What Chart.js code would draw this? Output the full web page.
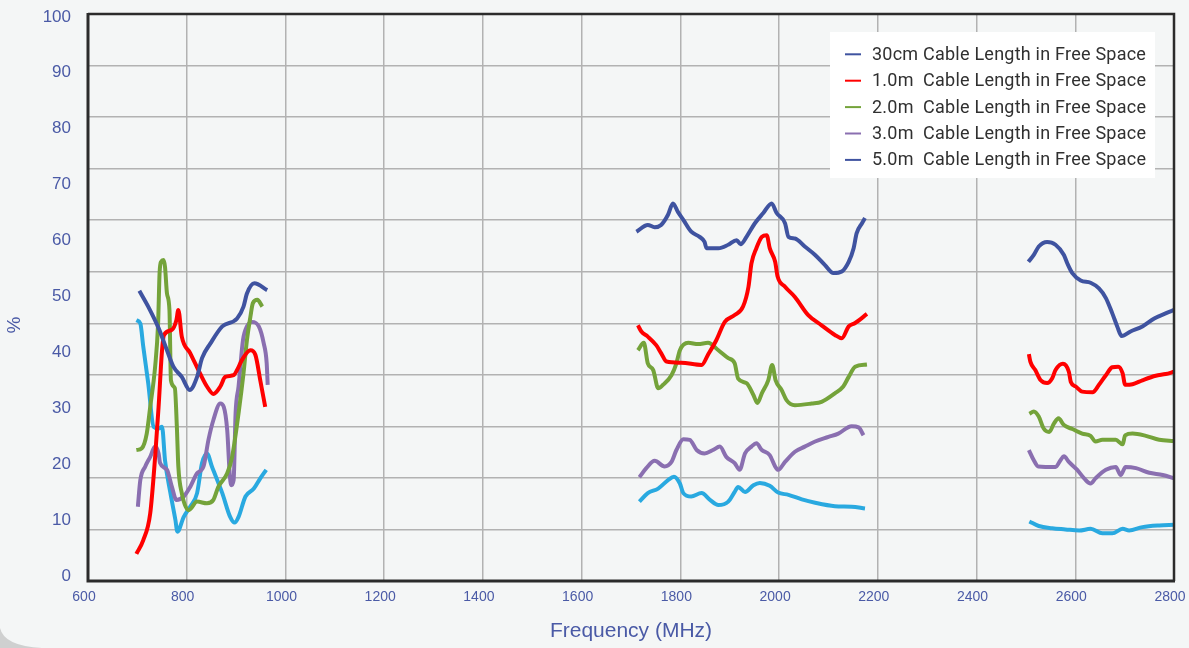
<!DOCTYPE html>
<html>
<head>
<meta charset="utf-8">
<title>Efficiency vs Frequency</title>
<script src="https://cdn.jsdelivr.net/npm/chart.js@4.4.1/dist/chart.umd.min.js"></script>
<style>
  html, body { margin: 0; padding: 0; background: #f4f6f6; }
  #wrap { width: 1189px; height: 648px; position: relative; }
</style>
</head>
<body>
<div id="wrap"><canvas id="chart"></canvas></div>
<script>
// [frequency MHz, %] ; null = break between bands
const GAP = null;

const seriesLabels = [
  "30cm Cable Length in Free Space",
  "1.0m  Cable Length in Free Space",
  "2.0m  Cable Length in Free Space",
  "3.0m  Cable Length in Free Space",
  "5.0m  Cable Length in Free Space"
];

const cable30cm = [
  [704,51.2],[722,48.4],[743,44.6],[760,40.7],[773,37.8],[790,36.0],[806,33.7],[821,36.0],[831,39.3],
  [848,41.9],[872,44.9],[902,46.3],[915,48.4],[922,50.7],[937,52.5],[963,51.3],
  GAP,
  [1711,61.6],[1734,62.8],[1748,62.4],[1761,62.8],[1775,64.6],[1785,66.6],[1795,65.1],[1806,63.7],
  [1822,61.6],[1839,60.7],[1849,59.8],[1853,58.7],[1877,58.7],[1897,59.3],[1914,60.1],[1922,59.4],
  [1934,60.7],[1951,63.1],[1968,64.9],[1985,66.6],[1995,64.9],[2012,63.1],[2019,60.7],[2032,60.4],
  [2052,59.0],[2073,57.5],[2093,55.7],[2110,54.3],[2127,54.6],[2141,56.3],[2151,58.7],[2157,61.3],
  [2168,63.1],[2174,64.0],
  GAP,
  [2505,56.3],[2516,57.5],[2526,59.0],[2543,59.8],[2560,59.3],[2577,57.5],[2584,56.0],[2594,54.3],
  [2611,53.0],[2631,52.6],[2648,51.6],[2662,49.9],[2675,47.2],[2685,44.9],[2694,43.2],[2712,44.0],
  [2736,44.9],[2760,46.3],[2783,47.2],[2800,47.8]
];

const cable1m = [
  [698,4.8],[712,7.2],[726,11.9],[736,21.9],[743,30.7],[750,40.7],[754,43.4],[770,44.3],[779,46.0],
  [783,47.8],[790,43.1],[807,40.2],[827,36.6],[841,34.3],[854,33.0],[868,34.3],[878,36.0],[895,36.3],
  [902,37.2],[912,39.0],[929,40.7],[939,39.9],[949,35.4],[959,30.7],
  GAP,
  [1714,45.1],[1721,44.0],[1734,43.1],[1751,41.6],[1761,40.2],[1772,38.7],[1802,38.5],[1843,38.1],
  [1856,39.9],[1873,42.5],[1890,45.7],[1910,46.9],[1927,48.4],[1938,51.9],[1944,56.0],[1954,58.7],
  [1965,60.7],[1975,61.0],[1981,58.7],[1992,56.3],[1997,53.7],[2012,51.9],[2032,50.1],[2059,46.9],
  [2086,45.1],[2113,43.4],[2127,42.8],[2141,44.9],[2154,45.5],[2178,47.1],
  GAP,
  [2506,40.0],[2509,38.7],[2519,37.2],[2530,35.4],[2543,34.9],[2553,35.7],[2560,37.2],[2575,38.3],
  [2587,36.9],[2591,35.1],[2601,34.3],[2614,33.4],[2635,33.3],[2648,34.6],[2662,36.3],[2675,37.7],
  [2687,37.8],[2696,36.6],[2701,34.6],[2716,34.7],[2736,35.4],[2763,36.2],[2783,36.5],[2800,36.9]
];

const cable2m = [
  [698,23.1],[709,23.4],[719,26.0],[726,30.7],[736,37.8],[742,45.4],[745,54.3],[748,56.3],[753,56.6],
  [756,55.4],[760,50.7],[765,47.8],[768,35.4],[776,34.0],[780,27.2],[783,20.2],[790,15.5],[804,12.5],
  [821,14.0],[841,13.7],[854,14.3],[864,16.6],[882,19.0],[892,21.9],[905,29.6],[915,36.6],[922,42.5],
  [929,46.6],[934,49.0],[943,49.6],[953,48.4],
  GAP,
  [1714,40.7],[1726,42.0],[1734,38.4],[1745,37.2],[1755,34.0],[1765,34.6],[1782,36.3],[1792,38.4],
  [1799,40.7],[1816,42.0],[1836,41.8],[1856,42.0],[1877,40.7],[1897,39.3],[1910,38.4],[1917,35.7],
  [1934,34.9],[1948,32.8],[1956,31.4],[1965,33.1],[1978,35.4],[1986,38.1],[1993,35.4],[2005,33.7],
  [2015,31.9],[2032,31.0],[2066,31.3],[2086,31.6],[2113,33.1],[2130,34.3],[2141,36.0],[2154,37.8],
  [2178,38.2],
  GAP,
  [2507,29.5],[2516,29.9],[2526,29.0],[2536,26.9],[2547,26.3],[2557,27.8],[2566,28.7],[2577,27.5],
  [2594,26.8],[2614,26.0],[2631,25.6],[2641,24.6],[2655,24.9],[2682,24.9],[2696,24.1],[2701,25.7],
  [2716,26.0],[2743,25.6],[2770,24.9],[2800,24.7]
];

const cable3m = [
  [701,13.1],[706,17.8],[716,20.2],[726,21.9],[736,23.7],[743,22.5],[746,20.8],[760,19.6],[770,16.6],
  [779,14.3],[794,14.9],[807,16.6],[821,19.0],[834,20.2],[844,24.9],[854,28.4],[868,31.3],[875,30.7],
  [882,26.6],[887,19.0],[890,16.9],[895,17.8],[899,29.6],[905,34.3],[914,42.5],[922,44.9],[932,45.7],
  [946,44.9],[956,41.9],[962,38.4],[964,34.6],
  GAP,
  [1717,18.3],[1731,19.9],[1748,21.2],[1768,20.2],[1782,21.0],[1792,23.1],[1806,25.0],[1819,24.9],
  [1833,23.1],[1849,22.5],[1866,23.1],[1880,23.7],[1893,21.9],[1910,20.8],[1920,19.6],[1931,22.5],
  [1944,23.7],[1954,24.3],[1965,23.1],[1981,22.2],[1992,20.2],[1998,19.6],[2012,21.0],[2032,22.8],
  [2052,23.7],[2073,24.6],[2100,25.4],[2120,26.0],[2147,27.3],[2161,27.1],[2171,25.7],
  GAP,
  [2506,23.1],[2516,21.3],[2525,20.2],[2560,20.1],[2570,21.3],[2577,22.0],[2587,21.0],[2604,19.6],
  [2618,18.1],[2631,17.2],[2641,18.1],[2662,19.6],[2682,20.1],[2692,18.7],[2702,20.1],[2723,19.9],
  [2750,19.1],[2777,18.7],[2800,18.1]
];

const cable5m = [
  [698,46.0],[706,45.4],[712,41.3],[722,34.9],[733,27.2],[743,26.9],[750,27.2],[756,21.3],[767,15.5],
  [777,10.8],[781,8.7],[794,11.3],[807,13.1],[821,15.5],[831,20.8],[841,22.5],[851,20.2],[872,15.5],
  [888,11.3],[897,10.3],[905,11.3],[919,14.9],[936,16.3],[949,18.1],[961,19.6],
  GAP,
  [1717,14.0],[1734,15.5],[1755,16.3],[1775,17.8],[1787,18.4],[1799,17.2],[1806,15.5],[1822,14.9],
  [1843,15.5],[1860,14.3],[1877,13.4],[1897,14.0],[1910,15.7],[1917,16.6],[1931,15.7],[1948,16.9],
  [1961,17.3],[1981,16.8],[1998,15.6],[2019,15.2],[2046,14.4],[2073,13.8],[2113,13.2],[2147,13.1],
  [2174,12.8],
  GAP,
  [2507,10.5],[2526,9.7],[2553,9.3],[2580,9.1],[2608,8.9],[2631,9.2],[2655,8.4],[2675,8.4],
  [2696,9.2],[2709,8.9],[2736,9.5],[2770,9.8],[2800,9.9]
];

const xTicks = [600, 800, 1000, 1200, 1400, 1600, 1800, 2000, 2200, 2400, 2600, 2800];
const yTicks = [0, 10, 20, 30, 40, 50, 60, 70, 80, 90, 100];

function toPoints(arr) {
  return arr.map((p, i) => p ? { x: p[0], y: p[1] } : { x: arr[i - 1][0] + 1, y: null });
}

const BLUE_TXT = "#4a5aa6";

function line(label, data, color, legendColor) {
  return {
    label: label,
    data: toPoints(data),
    borderColor: color,
    legendColor: legendColor || color,
    borderWidth: 4,
    pointRadius: 0,
    pointHoverRadius: 0,
    tension: 0.4,
    cubicInterpolationMode: "monotone",
    spanGaps: false,
    fill: false
  };
}

function noPad(s) {
  s.paddingTop = 0; s.paddingBottom = 0; s.paddingLeft = 0; s.paddingRight = 0;
}

const decor = {
  id: "decor",
  beforeDraw(chart) {
    const c = chart.ctx;
    c.save();
    c.fillStyle = "#f4f6f6";
    c.fillRect(0, 0, chart.width, chart.height);
    // page corner shadow bottom-left
    c.fillStyle = "#cfd0d0";
    c.beginPath();
    c.moveTo(0, 628);
    c.quadraticCurveTo(4, 646, 42, 648);
    c.lineTo(0, 648);
    c.closePath();
    c.fill();
    c.restore();
  },
  afterDatasetsDraw(chart) {
    const c = chart.ctx;
    const a = chart.chartArea;
    c.save();
    // frame
    c.strokeStyle = "#2b2b2b";
    c.lineWidth = 2.5;
    c.beginPath();
    c.moveTo(a.left, a.top);
    c.lineTo(a.right, a.top);
    c.lineTo(a.right, a.bottom);
    c.stroke();
    c.lineWidth = 3;
    c.beginPath();
    c.moveTo(a.left, a.top - 1);
    c.lineTo(a.left, a.bottom);
    c.lineTo(a.right + 1, a.bottom);
    c.stroke();

    // "%" axis title
    c.fillStyle = BLUE_TXT;
    c.font = "19px 'Liberation Sans', Arial, sans-serif";
    c.textAlign = "center";
    c.textBaseline = "middle";
    c.translate(15, 325);
    c.rotate(-Math.PI / 2);
    c.fillText("%", 0, 0);
    c.restore();

    // legend box
    c.save();
    c.fillStyle = "#ffffff";
    c.fillRect(830, 32, 325, 146);
    c.font = "18px Roboto, 'DejaVu Sans', sans-serif";
    const w0 = c.measureText(seriesLabels[0]).width;
    const spacing = (274 - w0) / (seriesLabels[0].length - 1);
    c.letterSpacing = spacing.toFixed(2) + "px";
    c.textBaseline = "middle";
    c.textAlign = "left";
    chart.data.datasets.forEach((ds, i) => {
      const y = 54.3 + i * 26.4;
      c.strokeStyle = ds.legendColor;
      c.lineWidth = 2;
      c.beginPath();
      c.moveTo(845, y);
      c.lineTo(861, y);
      c.stroke();
      c.fillStyle = "#303030";
      c.fillText(ds.label, 872, y + 1);
    });
    c.restore();
  }
};

new Chart(document.getElementById("chart"), {
  type: "line",
  data: {
    datasets: [
      line(seriesLabels[0], cable30cm, "#3f53a0"),
      line(seriesLabels[1], cable1m, "#ff0000"),
      line(seriesLabels[2], cable2m, "#74a33a"),
      line(seriesLabels[3], cable3m, "#8a6fb0"),
      line(seriesLabels[4], cable5m, "#29a9e0", "#3f53a0")
    ]
  },
  plugins: [decor],
  options: {
    responsive: true,
    maintainAspectRatio: false,
    animation: false,
    devicePixelRatio: 1,
    layout: { padding: { top: 14, right: 15, bottom: 0, left: 0 } },
    plugins: {
      legend: { display: false },
      tooltip: { enabled: false }
    },
    scales: {
      x: {
        type: "linear",
        min: 600,
        max: 2800,
        afterBuildTicks: (s) => { s.ticks = xTicks.map(v => ({ value: v })); },
        afterFit: (s) => { s.height = 67; noPad(s); },
        ticks: {
          color: BLUE_TXT,
          padding: 8,
          labelOffset: -4,
          maxRotation: 0,
          autoSkip: false,
          callback: (v) => String(v),
          font: { family: "'Liberation Sans', Arial, sans-serif", size: 14 }
        },
        grid: { color: "#b2b2b2", lineWidth: 1.5, drawTicks: false },
        border: { display: false },
        title: {
          display: true,
          text: "Frequency (MHz)",
          color: BLUE_TXT,
          font: { family: "'Liberation Sans', Arial, sans-serif", size: 21 },
          padding: { top: 0, bottom: 4 }
        }
      },
      // data axis
      y: {
        type: "linear",
        display: false,
        min: 0,
        max: 100
      },
      // tick-label axis (labels in the original sit slightly off the grid)
      yl: {
        type: "linear",
        position: "left",
        min: 0,
        max: 101.4,
        afterBuildTicks: (s) => { s.ticks = yTicks.map(v => ({ value: v })); },
        afterFit: (s) => { s.width = 88; noPad(s); },
        ticks: {
          color: BLUE_TXT,
          padding: 17,
          labelOffset: -5,
          callback: (v) => String(v),
          font: { family: "'Liberation Sans', Arial, sans-serif", size: 17 }
        },
        grid: { display: false, drawTicks: false },
        border: { display: false }
      },
      // grid-only axis
      yg: {
        type: "linear",
        position: "right",
        min: 0,
        max: 110,
        ticks: { display: false, stepSize: 10 },
        afterFit: (s) => { s.width = 0; noPad(s); },
        grid: { color: "#b2b2b2", lineWidth: 1.5, drawTicks: false },
        border: { display: false }
      }
    }
  }
});
</script>
</body>
</html>
